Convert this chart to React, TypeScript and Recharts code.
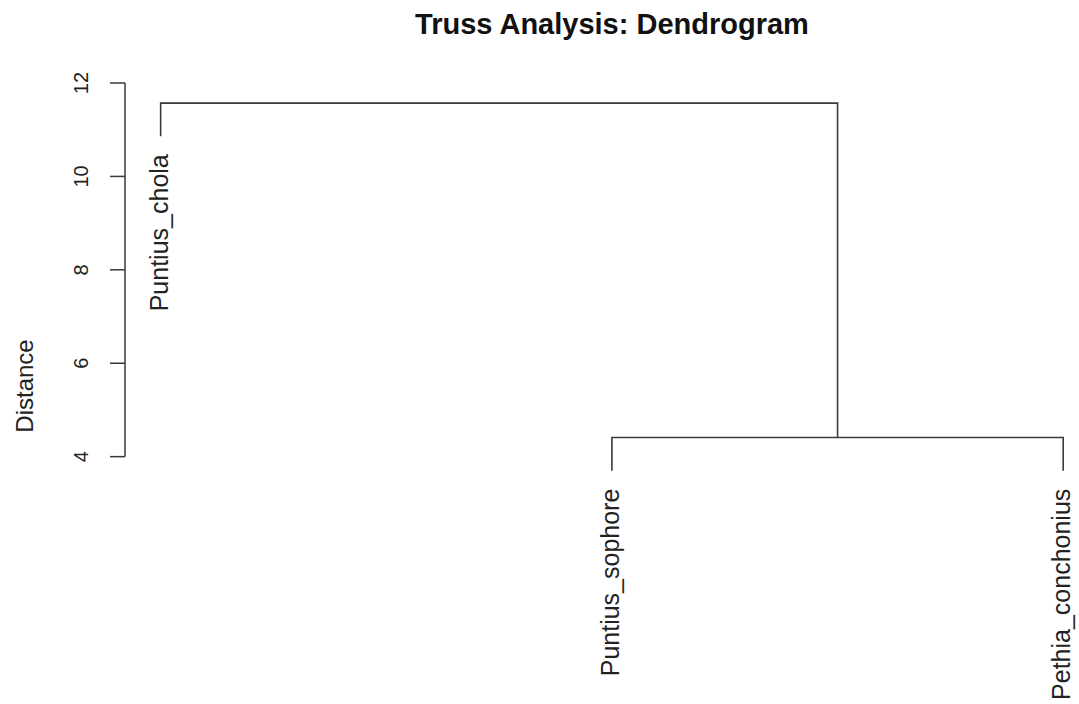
import { ComposedChart, Line, Scatter, XAxis, YAxis, ReferenceLine } from 'recharts'

// leaves in plotting order, their x slot and the height where each leaf line ends
const leafNames = ['Puntius_chola', 'Puntius_sophore', 'Pethia_conchonius']
const leafSlots = [1, 2, 3]
const leafBottoms = [10.86, 3.7, 3.7]

// merge heights: sophore + conchonius first, then chola with that cluster
const mergeHeights = [4.41, 11.57]

const yTicks = [4, 6, 8, 10, 12]

const FONT = "'Liberation Sans', Arial, sans-serif"
const INK = '#222'
const LINE = '#3a3a3a'

const innerMid = (leafSlots[1] + leafSlots[2]) / 2

// each link is drawn as a bracket: left leg, bar, right leg
const links = [
  [
    { x: leafSlots[1], y: leafBottoms[1] },
    { x: leafSlots[1], y: mergeHeights[0] },
    { x: leafSlots[2], y: mergeHeights[0] },
    { x: leafSlots[2], y: leafBottoms[2] },
  ],
  [
    { x: leafSlots[0], y: leafBottoms[0] },
    { x: leafSlots[0], y: mergeHeights[1] },
    { x: innerMid, y: mergeHeights[1] },
    { x: innerMid, y: mergeHeights[0] },
  ],
]

const leafPoints = leafNames.map((name, i) => ({ name, x: leafSlots[i], y: leafBottoms[i] }))

const X_DOMAIN: [number, number] = [0.921, 3.035]

function AxisTick({ x, y, payload }: any) {
  return (
    <text
      transform={`translate(${x},${y}) rotate(-90)`}
      textAnchor="middle"
      fontSize={20}
      fontFamily={FONT}
      fill={INK}
    >
      {payload.value}
    </text>
  )
}

function LeafLabel({ cx, cy, payload }: any) {
  return (
    <text
      transform={`translate(${cx},${cy + 18}) rotate(-90)`}
      x={0}
      y={7}
      textAnchor="end"
      fontSize={25}
      fontFamily={FONT}
      fill={INK}
    >
      {payload.name}
    </text>
  )
}

export default function App() {
  return (
    <div style={{ position: 'absolute', left: 0, top: 0, background: '#fff' }}>
      <ComposedChart width={1079} height={704} margin={{ top: 83, right: 0, bottom: 224, left: 0 }}>
        <XAxis type="number" dataKey="x" domain={X_DOMAIN} hide />
        <YAxis
          type="number"
          dataKey="y"
          domain={[3.5, 12]}
          ticks={yTicks}
          width={125}
          axisLine={false}
          tickLine={{ stroke: LINE, strokeWidth: 1.5 }}
          tickSize={15}
          tickMargin={22}
          tick={<AxisTick />}
        />
        <ReferenceLine
          segment={[
            { x: X_DOMAIN[0], y: yTicks[0] },
            { x: X_DOMAIN[0], y: yTicks[yTicks.length - 1] },
          ]}
          stroke={LINE}
          strokeWidth={1.5}
          ifOverflow="visible"
        />
        {links.map((pts, i) => (
          <Line
            key={i}
            data={pts}
            dataKey="y"
            type="linear"
            stroke={LINE}
            strokeWidth={1.6}
            dot={false}
            activeDot={false}
            isAnimationActive={false}
          />
        ))}
        <Scatter data={leafPoints} dataKey="y" shape={<LeafLabel />} isAnimationActive={false} />
        <text x={612} y={34} textAnchor="middle" fontSize={29} fontWeight="bold" fontFamily={FONT} fill="#111">
          Truss Analysis: Dendrogram
        </text>
        <text
          transform="translate(33,386) rotate(-90)"
          textAnchor="middle"
          fontSize={24}
          fontFamily={FONT}
          fill={INK}
        >
          Distance
        </text>
      </ComposedChart>
    </div>
  )
}
